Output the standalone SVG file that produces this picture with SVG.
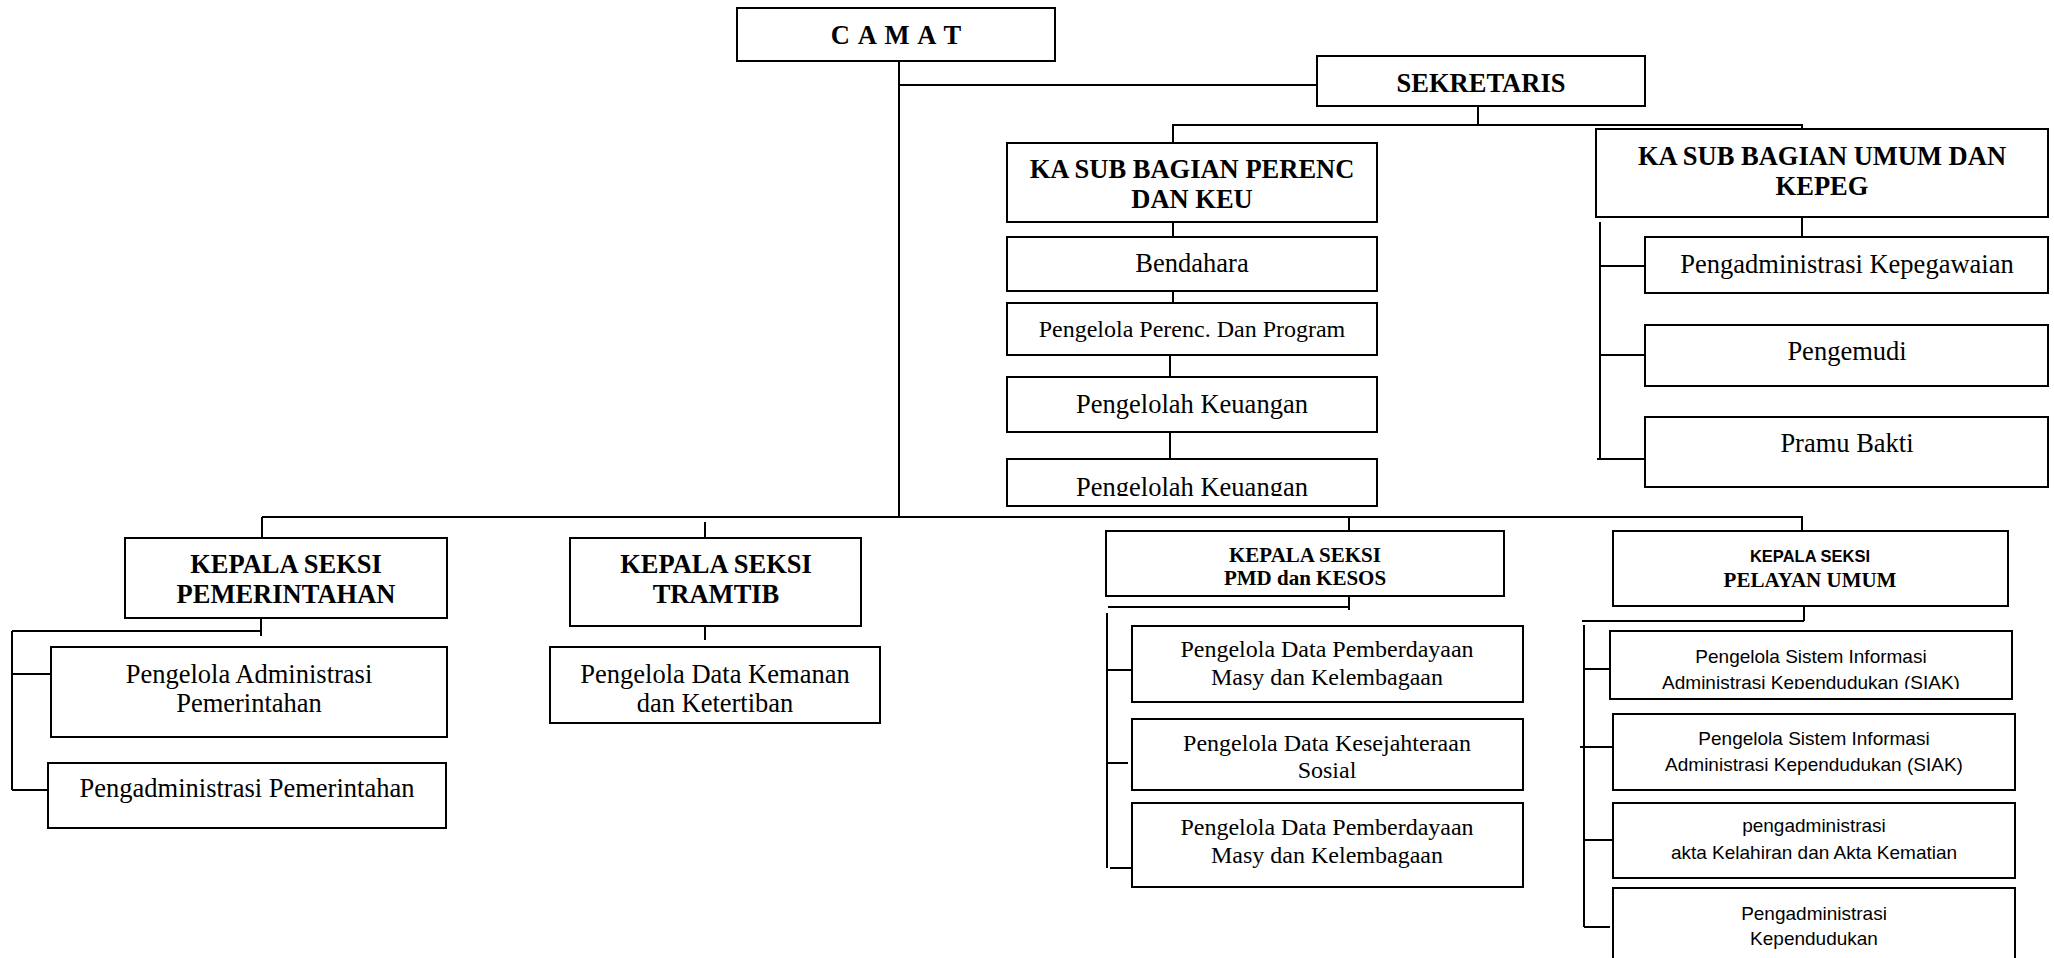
<svg xmlns="http://www.w3.org/2000/svg" width="2054" height="958" viewBox="0 0 2054 958">
<style>
.box{fill:#fff;stroke:#000;stroke-width:2}
.ln{fill:none;stroke:#000;stroke-width:2}
.tb{font-family:"Liberation Serif","Times New Roman",serif;font-weight:bold;font-size:26.5px;text-anchor:middle;fill:#000}
.t{font-family:"Liberation Serif","Times New Roman",serif;font-size:26.5px;text-anchor:middle;fill:#000}
.t24{font-size:24px}
.tb21{font-size:21px}
.s{font-family:"Liberation Sans",Arial,sans-serif;font-size:19px;text-anchor:middle;fill:#000}
.sb{font-family:"Liberation Sans",Arial,sans-serif;font-size:16.5px;font-weight:bold;text-anchor:middle;fill:#000}
</style>
<defs>
<clipPath id="clipKeu"><rect x="1007" y="459" width="370" height="37"/></clipPath>
<clipPath id="clipSiak"><rect x="1610" y="631" width="402" height="58"/></clipPath>
</defs>
<rect x="0" y="0" width="2054" height="958" fill="#fff"/>
<g id="connectors">
<path class="ln" d="M899,61 V517"/>
<path class="ln" d="M899,85 H1317"/>
<path class="ln" d="M1478,106 V125"/>
<path class="ln" d="M1172,125 H1802 V129"/>
<path class="ln" d="M1173,125 V143"/>
<path class="ln" d="M1173,222 V237"/>
<path class="ln" d="M1173,291 V303"/>
<path class="ln" d="M1170,355 V377"/>
<path class="ln" d="M1170,432 V459"/>
<path class="ln" d="M1802,217 V237"/>
<path class="ln" d="M1600,222 V459"/>
<path class="ln" d="M1600,266 H1645"/>
<path class="ln" d="M1600,355 H1645"/>
<path class="ln" d="M1597,459 H1645"/>
<path class="ln" d="M262,517 H1802 V531"/>
<path class="ln" d="M262,517 V538"/>
<path class="ln" d="M705,522 V538"/>
<path class="ln" d="M1349,517 V531"/>
<path class="ln" d="M261,618 V636"/>
<path class="ln" d="M12,631 H261"/>
<path class="ln" d="M12,631 V790"/>
<path class="ln" d="M12,674 H51"/>
<path class="ln" d="M12,790 H48"/>
<path class="ln" d="M705,626 V640"/>
<path class="ln" d="M1349,596 V610"/>
<path class="ln" d="M1108,607 H1349"/>
<path class="ln" d="M1107,613 V868"/>
<path class="ln" d="M1107,670 H1132"/>
<path class="ln" d="M1107,763 H1128"/>
<path class="ln" d="M1110,868 H1132"/>
<path class="ln" d="M1804,606 V621"/>
<path class="ln" d="M1582,621 H1804"/>
<path class="ln" d="M1584,625 V927"/>
<path class="ln" d="M1584,669 H1610"/>
<path class="ln" d="M1580,747 H1613"/>
<path class="ln" d="M1584,840 H1613"/>
<path class="ln" d="M1584,927 H1610"/>
</g>
<g id="camat"><rect class="box" x="737" y="8" width="318" height="53"/><text class="tb" x="896" y="44" font-size="27.5" word-spacing="2.5">C A M A T</text></g>
<g id="sekretaris"><rect class="box" x="1317" y="56" width="328" height="50"/><text class="tb" x="1481" y="92">SEKRETARIS</text></g>
<g id="kasub-perenc"><rect class="box" x="1007" y="143" width="370" height="79"/><text class="tb" x="1192" y="178">KA SUB BAGIAN PERENC</text><text class="tb" x="1192" y="208">DAN KEU</text></g>
<g id="bendahara"><rect class="box" x="1007" y="237" width="370" height="54"/><text class="t" x="1192" y="272">Bendahara</text></g>
<g id="perenc-program"><rect class="box" x="1007" y="303" width="370" height="52"/><text class="t t24" x="1192" y="337">Pengelola Perenc. Dan Program</text></g>
<g id="keuangan-1"><rect class="box" x="1007" y="377" width="370" height="55"/><text class="t" x="1192" y="413">Pengelolah Keuangan</text></g>
<g id="keuangan-2"><rect class="box" x="1007" y="459" width="370" height="47"/><text class="t" x="1192" y="496" clip-path="url(#clipKeu)">Pengelolah Keuangan</text></g>
<g id="kasub-umum"><rect class="box" x="1596" y="129" width="452" height="88"/><text class="tb" x="1822" y="165">KA SUB BAGIAN UMUM DAN</text><text class="tb" x="1822" y="195">KEPEG</text></g>
<g id="kepegawaian"><rect class="box" x="1645" y="237" width="403" height="56"/><text class="t" x="1847" y="273">Pengadministrasi Kepegawaian</text></g>
<g id="pengemudi"><rect class="box" x="1645" y="325" width="403" height="61"/><text class="t" x="1847" y="360">Pengemudi</text></g>
<g id="pramu-bakti"><rect class="box" x="1645" y="417" width="403" height="70"/><text class="t" x="1847" y="452">Pramu Bakti</text></g>
<g id="ks-pemerintahan"><rect class="box" x="125" y="538" width="322" height="80"/><text class="tb" x="286" y="573">KEPALA SEKSI</text><text class="tb" x="286" y="603">PEMERINTAHAN</text></g>
<g id="adm-pemerintahan"><rect class="box" x="51" y="647" width="396" height="90"/><text class="t" x="249" y="683">Pengelola Administrasi</text><text class="t" x="249" y="712">Pemerintahan</text></g>
<g id="pengadm-pemerintahan"><rect class="box" x="48" y="763" width="398" height="65"/><text class="t" x="247" y="797">Pengadministrasi Pemerintahan</text></g>
<g id="ks-tramtib"><rect class="box" x="570" y="538" width="291" height="88"/><text class="tb" x="716" y="573">KEPALA SEKSI</text><text class="tb" x="716" y="603">TRAMTIB</text></g>
<g id="kemanan"><rect class="box" x="550" y="647" width="330" height="76"/><text class="t" x="715" y="683">Pengelola Data Kemanan</text><text class="t" x="715" y="712">dan Ketertiban</text></g>
<g id="ks-pmd"><rect class="box" x="1106" y="531" width="398" height="65"/><text class="tb tb21" x="1305" y="562">KEPALA SEKSI</text><text class="tb tb21" x="1305" y="585">PMD dan KESOS</text></g>
<g id="pmd-1"><rect class="box" x="1132" y="626" width="391" height="76"/><text class="t t24" x="1327" y="657">Pengelola Data Pemberdayaan</text><text class="t t24" x="1327" y="685">Masy dan Kelembagaan</text></g>
<g id="pmd-2"><rect class="box" x="1132" y="719" width="391" height="71"/><text class="t t24" x="1327" y="751">Pengelola Data Kesejahteraan</text><text class="t t24" x="1327" y="778">Sosial</text></g>
<g id="pmd-3"><rect class="box" x="1132" y="803" width="391" height="84"/><text class="t t24" x="1327" y="835">Pengelola Data Pemberdayaan</text><text class="t t24" x="1327" y="863">Masy dan Kelembagaan</text></g>
<g id="ks-pelayanan"><rect class="box" x="1613" y="531" width="395" height="75"/><text class="sb" x="1810" y="562">KEPALA SEKSI</text><text class="tb tb21" x="1810" y="587">PELAYAN UMUM</text></g>
<g id="siak-1"><rect class="box" x="1610" y="631" width="402" height="68"/><text class="s" x="1811" y="663">Pengelola Sistem Informasi</text><text class="s" x="1811" y="689" clip-path="url(#clipSiak)">Administrasi Kependudukan (SIAK)</text></g>
<g id="siak-2"><rect class="box" x="1613" y="714" width="402" height="76"/><text class="s" x="1814" y="745">Pengelola Sistem Informasi</text><text class="s" x="1814" y="771">Administrasi Kependudukan (SIAK)</text></g>
<g id="akta"><rect class="box" x="1613" y="803" width="402" height="75"/><text class="s" x="1814" y="832">pengadministrasi</text><text class="s" x="1814" y="859">akta Kelahiran dan Akta Kematian</text></g>
<g id="kependudukan"><rect class="box" x="1613" y="888" width="402" height="90"/><text class="s" x="1814" y="920">Pengadministrasi</text><text class="s" x="1814" y="945">Kependudukan</text></g>
</svg>
